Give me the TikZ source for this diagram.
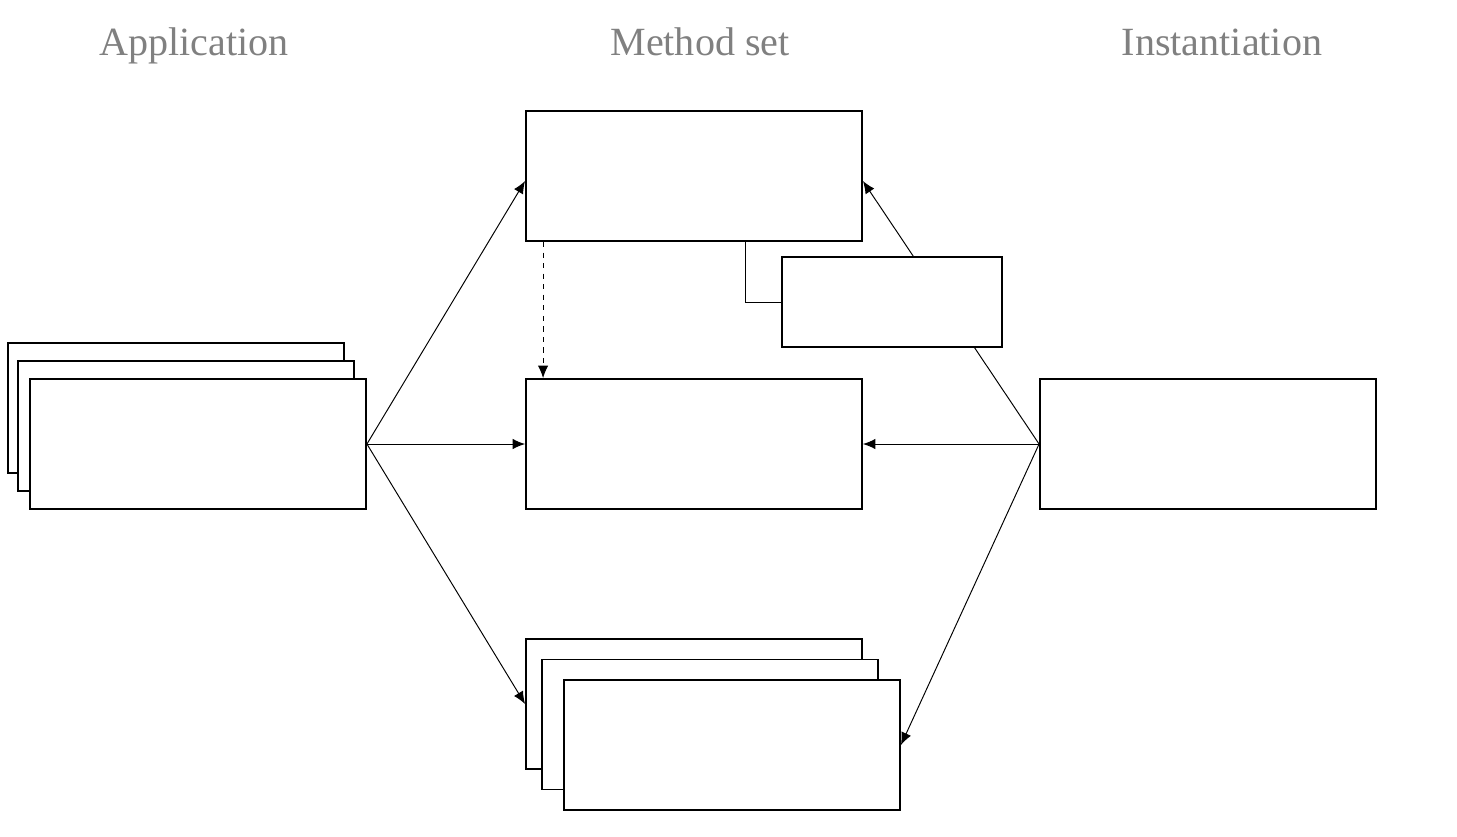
\documentclass[tikz,border=0pt]{standalone}
\usepackage{fontspec}
\setmainfont{Liberation Serif}
\usetikzlibrary{arrows.meta,calc}
\definecolor{titlegray}{RGB}{128,128,128}
\begin{document}
\begin{tikzpicture}[x=0.02cm,y=-0.02cm,
  box/.style={draw=black,fill=white,line width=1.1pt,minimum width=6.72cm,minimum height=2.6cm,inner sep=0pt},
  smallbox/.style={draw=black,fill=white,line width=1.1pt,minimum width=4.4cm,minimum height=1.8cm,inner sep=0pt},
  title/.style={text=titlegray,font=\fontsize{22.8}{26}\selectfont,anchor=base},
  conn/.style={draw=black,line width=0.55pt,-{Latex[length=2.5mm,width=2.1mm]}},
  plain/.style={draw=black,line width=0.55pt}]
\useasboundingbox (0,0) rectangle (1457,836);
% titles
\node[title] (tApp) at (194,55) {Application};
\node[title] (tMeth) at (700,55) {Method set};
\node[title] (tInst) at (1222,55) {Instantiation};
% application stack
\node[box] (a1) at (176,408) {};
\node[box] (a2) at (186,426) {};
\node[box] (app) at (198,444) {};
% method boxes
\node[box] (top) at (694,176) {};
\node[box] (mid) at (694,444) {};
% bottom stack
\node[box] (b1) at (694,704) {};
\node[box] (b2) at (710,724.5) {};
\node[box] (b3) at (732,745) {};
% instantiation
\node[box] (inst) at (1208,444) {};
% connectors
\draw[conn] (app.east) -- ([yshift=-0.1cm]top.west);
\draw[conn] (app.east) -- (mid.west);
\draw[conn] (app.east) -- (b1.west);
\draw[conn] (inst.west) -- (mid.east);
\draw[conn] (inst.west) -- ([yshift=-0.1cm]top.east);
\draw[conn] (inst.west) -- (b3.east);
\draw[conn,dashed] ([xshift=0.36cm]top.south west) -- ([xshift=0.36cm]mid.north west);
% small box over the line
\node[smallbox] (small) at (892,302) {};
\draw[plain] ([xshift=1.02cm]top.south) |- (small.west);
\end{tikzpicture}
\end{document}
